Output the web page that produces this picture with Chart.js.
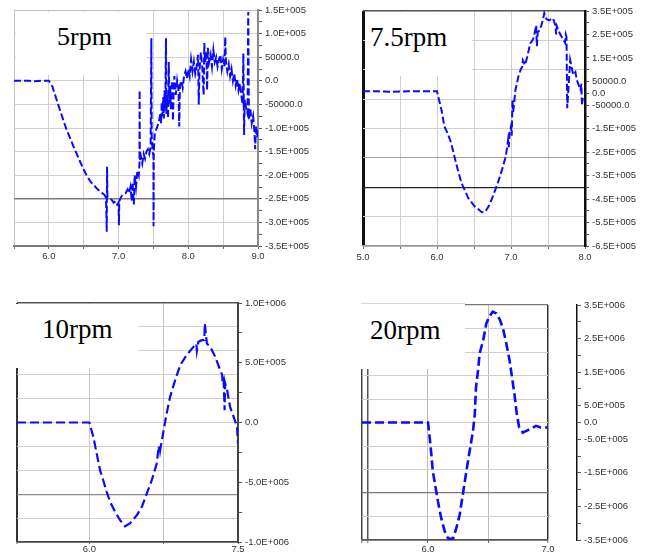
<!DOCTYPE html>
<html><head><meta charset="utf-8">
<script src="https://cdn.jsdelivr.net/npm/chart.js@4.4.1/dist/chart.umd.min.js"></script>
<style>
html,body{margin:0;padding:0;background:#fff;}
#wrap{position:relative;width:663px;height:559px;overflow:hidden;background:#fff;}
canvas{position:absolute;}
.box{position:absolute;background:#fff;z-index:2;}
.lbl{position:absolute;font-family:'Liberation Serif','Times New Roman',serif;font-size:27px;line-height:27px;color:#000;white-space:nowrap;z-index:3;}
</style></head><body>
<div id="wrap">
<canvas id="c1" width="330" height="272" style="left:0px;top:0px"></canvas>
<canvas id="c2" width="333" height="272" style="left:330px;top:0px"></canvas>
<canvas id="c3" width="330" height="279" style="left:0px;top:280px"></canvas>
<canvas id="c4" width="333" height="279" style="left:330px;top:280px"></canvas>
<div class="box" style="left:16px;top:12px;width:131px;height:63px"></div>
<div class="box" style="left:365px;top:12px;width:107px;height:64px"></div>
<div class="box" style="left:15px;top:304px;width:123px;height:64px"></div>
<div class="box" style="left:361px;top:303px;width:104px;height:65px;border-top:1px solid #d8d8d8"></div>
<div class="lbl" style="left:57px;top:23px;font-size:26px">5rpm</div>
<div class="lbl" style="left:370px;top:24px">7.5rpm</div>
<div class="lbl" style="left:42px;top:316px">10rpm</div>
<div class="lbl" style="left:370px;top:317px">20rpm</div>
</div>
<script>
// ---------- DATA (y values in thousands) ----------
const titles = ['5rpm', '7.5rpm', '10rpm', '20rpm'];

const x5 = [5.5,5.6,5.7,5.8,5.9,6.0,6.05,6.1,6.15,6.2,6.25,6.3,6.35,6.4,6.45,6.5,6.55,6.6,6.65,6.7,6.75,6.8,6.82,6.83,6.835,6.84,6.87,6.9,6.93,6.96,6.98,7.0,7.005,7.01,7.04,7.07,7.1,7.13,7.15,7.17,7.19,7.2,7.22,7.23,7.25,7.27,7.29,7.3,7.302,7.305,7.32,7.34,7.36,7.38,7.4,7.42,7.44,7.46,7.47,7.475,7.49,7.5,7.502,7.505,7.52,7.55,7.58,7.6,7.61,7.62,7.63,7.64,7.65,7.66,7.67,7.68,7.685,7.7,7.71,7.72,7.73,7.74,7.75,7.76,7.77,7.78,7.79,7.8,7.82,7.84,7.86,7.87,7.88,7.9,7.92,7.94,7.96,7.98,8.0,8.02,8.04,8.06,8.08,8.1,8.12,8.14,8.15,8.16,8.18,8.2,8.22,8.23,8.24,8.26,8.27,8.28,8.3,8.32,8.34,8.36,8.38,8.4,8.42,8.44,8.46,8.48,8.5,8.52,8.53,8.54,8.56,8.58,8.6,8.62,8.64,8.66,8.68,8.7,8.72,8.74,8.76,8.78,8.79,8.8,8.81,8.83,8.85,8.86,8.87,8.89,8.91,8.93,8.95,8.96,8.97,8.99,9.0];
const y5 = [0,0,0,-1,0,0,-12,-35,-58,-80,-102,-120,-138,-155,-172,-188,-203,-214,-222,-230,-236,-242,-248,-320,-182,-245,-250,-252,-258,-255,-262,-258,-306,-255,-245,-240,-238,-230,-238,-225,-255,-215,-262,-200,-225,-190,-200,-175,-20,-170,-160,-175,-155,-165,-150,-145,-155,-140,90,-120,-150,-160,-308,-150,-110,-100,-85,-70,-90,-45,-75,-35,-80,-20,-60,90,-70,-30,-80,40,-50,-10,-60,-30,0,-85,-20,10,-30,0,-20,-97,-10,0,-15,10,20,5,25,10,45,20,40,15,30,55,-50,20,60,30,-30,80,40,60,-20,70,40,55,30,65,40,50,30,45,55,25,45,30,93,40,20,35,10,25,0,15,-10,5,-20,-5,-30,-50,58,-115,-40,-60,-70,146,-80,-60,-90,-75,-110,-145,-95,-120,-100];

const x75 = [5.0,5.2,5.4,5.6,5.8,6.0,6.06,6.1,6.15,6.19,6.24,6.28,6.33,6.38,6.42,6.47,6.52,6.56,6.6,6.63,6.66,6.7,6.74,6.79,6.83,6.88,6.93,6.96,6.97,6.98,7.0,7.01,7.02,7.03,7.06,7.1,7.13,7.15,7.16,7.19,7.22,7.26,7.29,7.31,7.34,7.35,7.36,7.39,7.43,7.45,7.48,7.52,7.55,7.57,7.6,7.61,7.62,7.66,7.71,7.73,7.74,7.75,7.76,7.8,7.84,7.87,7.89,7.92,7.94,7.95,7.96,7.97];
const y75 = [8,8,6,8,8,8,-70,-141,-175,-211,-275,-324,-381,-416,-445,-465,-485,-494,-505,-508,-500,-480,-451,-409,-374,-324,-268,-200,-230,-170,-141,-180,-28,-80,14,71,100,113,140,120,155,212,225,240,289,200,260,268,310,341,315,310,320,317,289,250,285,254,226,215,250,240,-64,141,78,90,56,30,14,40,-50,-20];

const x10 = [5.27,5.5,5.75,6.0,6.04,6.074,6.108,6.14,6.175,6.21,6.26,6.31,6.36,6.41,6.48,6.53,6.58,6.63,6.68,6.7,6.705,6.71,6.715,6.72,6.75,6.78,6.815,6.866,6.917,6.98,7.05,7.08,7.085,7.1,7.136,7.16,7.165,7.186,7.22,7.27,7.32,7.34,7.345,7.355,7.365,7.37,7.39,7.42,7.456,7.49,7.5];
const y10 = [0,0,0,0,-120,-259,-399,-483,-580,-664,-748,-817,-868,-845,-775,-706,-594,-483,-343,-200,-240,-190,-230,-204,-64,75,215,354,480,563,633,660,600,675,689,690,828,661,633,550,438,400,330,354,103,330,271,131,47,-36,-176];

const x20 = [5.45,5.6,5.8,6.0,6.014,6.028,6.04,6.064,6.083,6.11,6.14,6.167,6.19,6.21,6.236,6.264,6.29,6.32,6.347,6.375,6.39,6.40,6.417,6.43,6.46,6.486,6.51,6.54,6.57,6.6,6.625,6.65,6.68,6.7,6.72,6.74,6.76,6.79,6.82,6.85,6.875,6.9,6.94,7.0];
const y20 = [0,0,0,0,-450,-950,-1450,-1950,-2350,-2850,-3250,-3450,-3470,-3450,-3150,-2750,-2150,-1450,-850,-250,250,1050,1550,2050,2450,2950,3150,3300,3250,3050,2800,2400,1850,1350,850,250,-150,-300,-250,-200,-150,-100,-150,-150];

// ---------- TICKS ----------
const xTicks5 = [5.5,6.0,6.5,7.0,7.5,8.0,8.5,9.0];
const xLabels5 = ['','6.0','','7.0','','8.0','','9.0'];
const yTickVals5 = [150000,100000,50000,0,-50000,-100000,-150000,-200000,-250000,-300000,-350000];
const yLabels5 = ['1.5E+005','1.0E+005','50000.0','0.0','-50000.0','-1.0E+005','-1.5E+005','-2.0E+005','-2.5E+005','-3.0E+005','-3.5E+005'];
const yMinor5 = [125000,75000,25000,-25000,-75000,-125000,-175000,-225000,-275000,-325000];
const yGrid5 = [150000,100000,50000,0,-50000,-100000,-150000,-200000,-250000,-300000,-350000];

const xTicks75 = [5.0,5.5,6.0,6.5,7.0,7.5,8.0];
const xLabels75 = ['5.0','','6.0','','7.0','','8.0'];
const yTickVals75 = [350000,250000,150000,50000,0,-50000,-150000,-250000,-350000,-450000,-550000,-650000];
const yLabels75 = ['3.5E+005','2.5E+005','1.5E+005','50000.0','0.0','-50000.0','-1.5E+005','-2.5E+005','-3.5E+005','-4.5E+005','-5.5E+005','-6.5E+005'];
const yMinor75 = [300000,200000,100000,-100000,-200000,-300000,-400000,-500000,-600000];
const yGrid75 = [350000,225000,100000,-25000,-150000,-275000,-400000,-525000,-650000];

const xTicks10 = [5.27,6.0,6.75,7.5];
const xLabels10 = ['','6.0','','7.5'];
const yTickVals10 = [1000000,500000,0,-500000,-1000000];
const yLabels10 = ['1.0E+006','5.0E+005','0.0','-5.0E+005','-1.0E+006'];
const yMinor10 = [750000,250000,-250000,-750000];
const yGrid10 = [1000000,800000,600000,400000,200000,0,-200000,-400000,-600000,-800000,-1000000];

const xTicks20 = [5.45,5.5,6.0,6.5,7.0];
const xLabels20 = ['','','6.0','','7.0'];
const yTickVals20 = [3500000,2500000,1500000,500000,0,-500000,-1500000,-2500000,-3500000];
const yLabels20 = ['3.5E+006','2.5E+006','1.5E+006','5.0E+005','0.0','-5.0E+005','-1.5E+006','-2.5E+006','-3.5E+006'];
const yMinor20 = [3000000,2000000,1000000,-1000000,-2000000,-3000000];
const yGrid20 = [3500000,2800000,2100000,1400000,700000,0,-700000,-1400000,-2100000,-2800000,-3500000];

// ---------- STYLE ----------
const L = '#d0d0d0';
const panels = [
 {id:'c1', xs:x5, ys:y5, xMin:5.5, xMax:9.0, yMin:-350000, yMax:150000,
  xTicks:xTicks5, xLabels:xLabels5, xGridC:['#c4c4c4',L,L,L,L,L,L,L], xGridW:[1,1,1,1,1,1,1,1],
  yTicks:yTickVals5, yLabels:yLabels5, yMinor:yMinor5, yGrid:yGrid5,
  yGridC:['#bdbdbd',L,L,L,L,L,L,L,'#7a7a7a',L,L], yGridW:[1,1,1,1,1,1,1,1,1.6,1,1],
  pad:{left:14,top:10}, xH:26, yW:72, yPadW:0, xTL:3, xPad:2,
  yBorder:'#8a8a8a', yBorderW:2, xBorder:'#7a7a7a', xBorderW:2, dash:[7,3], lw:2},
 {id:'c2', xs:x75, ys:y75, xMin:5.0, xMax:8.0, yMin:-650000, yMax:350000,
  xTicks:xTicks75, xLabels:xLabels75, xGridC:['#111',L,L,L,L,L,L], xGridW:[3,1,1,1,1,1,1],
  yTicks:yTickVals75, yLabels:yLabels75, yMinor:yMinor75, yGrid:yGrid75,
  yGridC:['#555',L,L,L,L,'#a0a0a0','#222',L,'#999'], yGridW:[1.5,1,1,1,1,1,1.2,1,1.5],
  pad:{left:33,top:11}, xH:26, yW:78, yPadW:0, xTL:3, xPad:3,
  yBorder:'#111', yBorderW:2.5, xBorder:'#999', xBorderW:1.5, dash:[7,3], lw:2},
 {id:'c3', xs:x10, ys:y10, xMin:5.27, xMax:7.5, yMin:-1000000, yMax:1000000,
  xTicks:xTicks10, xLabels:xLabels10, xGridC:['#333','#c8c8c8','#c8c8c8','#444'], xGridW:[2,1,1,1],
  yTicks:yTickVals10, yLabels:yLabels10, yMinor:yMinor10, yGrid:yGrid10,
  yGridC:['#555',L,L,L,L,L,L,L,'#8a8a8a',L,'#444'], yGridW:[1.5,1,1,1,1,1,1,1,1.3,1,1.5],
  pad:{left:17,top:23}, xH:17, yW:92, yPadW:0, xTL:2, xPad:0,
  yBorder:'#444', yBorderW:2, xBorder:'#444', xBorderW:1.5, dash:[9,4], lw:2.2},
 {id:'c4', xs:x20, ys:y20, xMin:5.45, xMax:7.0, yMin:-3500000, yMax:3500000,
  xTicks:xTicks20, xLabels:xLabels20, xGridC:['#444','#555','#bbb','#bbb','#333'], xGridW:[1.5,1.5,1,1,1.5],
  yTicks:yTickVals20, yLabels:yLabels20, yMinor:yMinor20, yGrid:yGrid20,
  yGridC:['#777',L,L,L,L,L,L,L,'#777',L,'#555'], yGridW:[1.2,1,1,1,1,1,1,1,1.3,1,1.5],
  pad:{left:32,top:25}, xH:19, yW:86, yPadW:29, xTL:3, xPad:1,
  yBorder:'#111', yBorderW:1.5, xBorder:'#555', xBorderW:1.5, dash:[9,4], lw:2.6}
];

Chart.defaults.font.family = "'Liberation Sans', Arial, sans-serif";
Chart.defaults.font.size = 9.5;
Chart.defaults.color = '#333';

panels.forEach(p => {
  const pts = p.xs.map((x, i) => ({x: x, y: p.ys[i] * 1000}));
  const allY = p.yTicks.concat(p.yMinor).sort((a, b) => b - a);
  const scales = {
    x: {
      type: 'linear', position: 'bottom', min: p.xMin, max: p.xMax,
      afterBuildTicks: s => { s.ticks = p.xTicks.map(v => ({value: v})); },
      afterFit: s => { s.height = p.xH; },
      ticks: {autoSkip: false, maxRotation: 0, padding: p.xPad, color: '#333',
              callback: (v, i) => p.xLabels[i]},
      grid: {color: c => p.xGridC[c.index], lineWidth: c => p.xGridW[c.index],
             drawTicks: true, tickLength: p.xTL, tickColor: '#666', tickWidth: 1},
      border: {display: true, color: p.xBorder, width: p.xBorderW}
    },
    yg: {
      type: 'linear', position: 'left', min: p.yMin, max: p.yMax, weight: 0,
      afterBuildTicks: s => { s.ticks = p.yGrid.map(v => ({value: v})); },
      afterFit: s => { s.width = 0; },
      ticks: {display: false, autoSkip: false},
      grid: {color: c => p.yGridC[c.index], lineWidth: c => p.yGridW[c.index], drawTicks: false},
      border: {display: false}
    },
    y: {
      type: 'linear', position: 'right', min: p.yMin, max: p.yMax, weight: 2,
      afterBuildTicks: s => { s.ticks = allY.map(v => ({value: v})); },
      afterFit: s => { s.width = p.yW; },
      ticks: {autoSkip: false, padding: 3, color: '#333',
              callback: v => { const k = p.yTicks.indexOf(v); return k >= 0 ? p.yLabels[k] : ''; }},
      grid: {drawOnChartArea: false, drawTicks: true, tickLength: 4, tickColor: '#555', tickWidth: 1},
      border: {display: true, color: p.yBorder, width: p.yBorderW}
    }
  };
  if (p.yPadW > 0) {
    scales.ypad = {
      type: 'linear', position: 'right', min: 0, max: 1, weight: 1,
      afterFit: s => { s.width = p.yPadW; },
      ticks: {display: false}, grid: {display: false}, border: {display: false}
    };
  }
  new Chart(document.getElementById(p.id), {
    type: 'line',
    data: {datasets: [{data: pts, xAxisID: 'x', yAxisID: 'y', borderColor: '#0a0aff',
      borderWidth: p.lw, borderDash: p.dash, pointRadius: 0, fill: false, tension: 0}]},
    options: {
      responsive: false, animation: false, devicePixelRatio: 1,
      layout: {padding: {left: p.pad.left, top: p.pad.top, right: 0, bottom: 0}},
      plugins: {legend: {display: false}, tooltip: {enabled: false}},
      scales: scales
    }
  });
});
</script>
</body></html>
